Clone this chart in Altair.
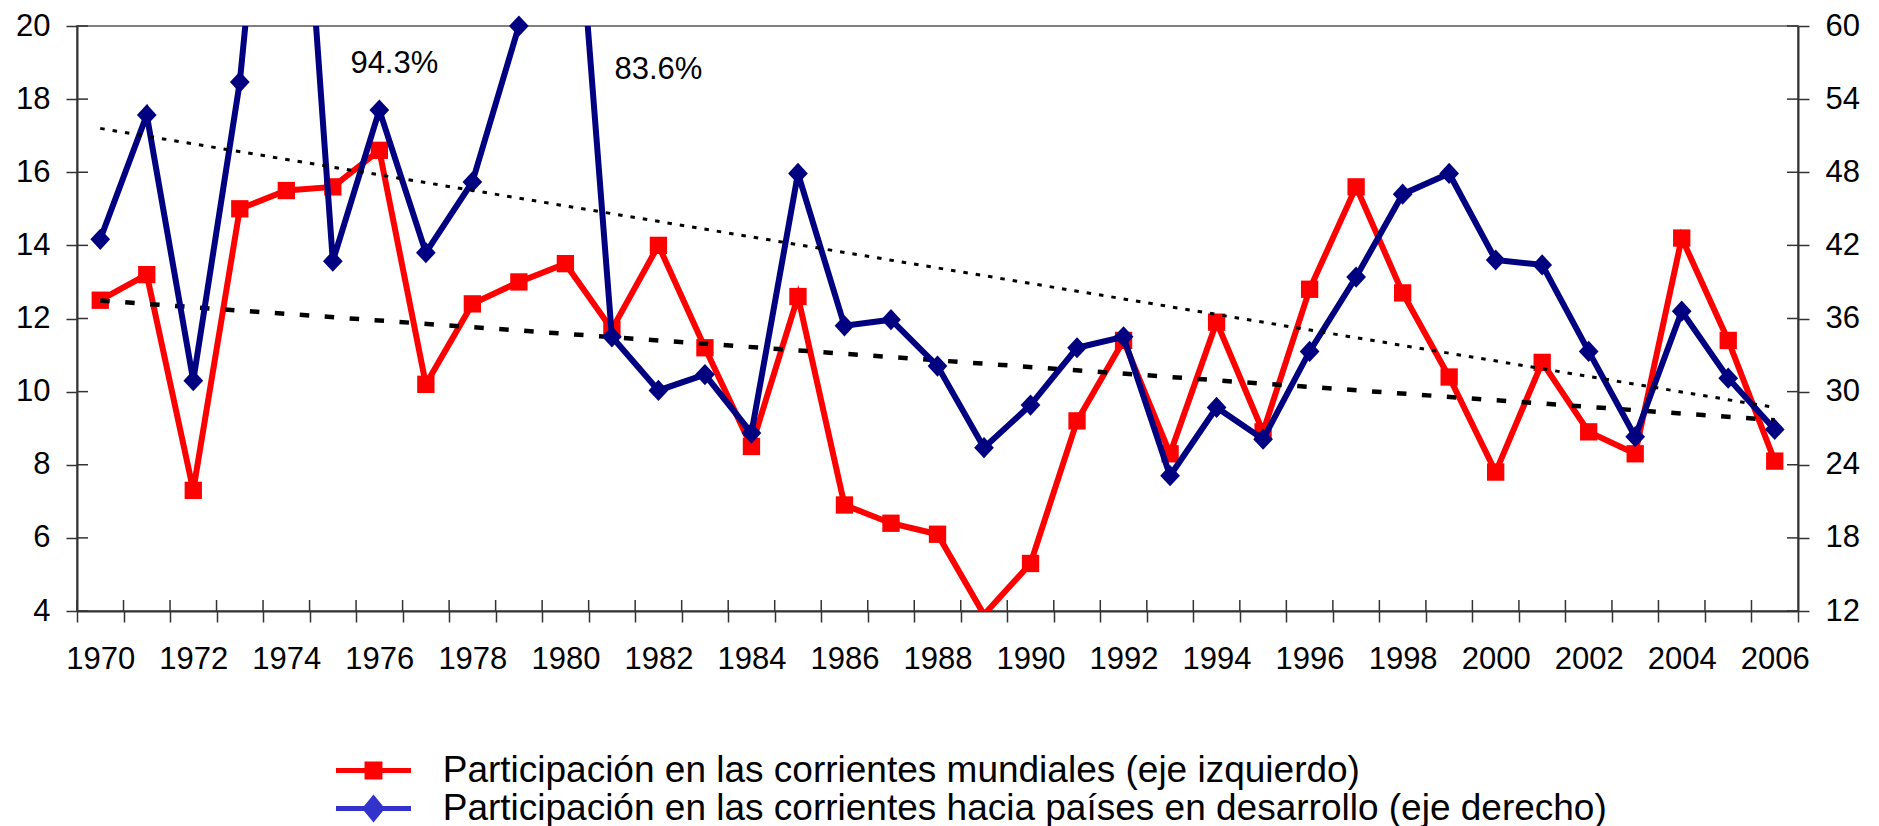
import altair as alt
import pandas as pd

# ---------------- data ----------------
years = list(range(1970, 2007))
mundial = [12.5, 13.2, 7.3, 15.0, 15.5, 15.6, 16.6, 10.2, 12.4, 13.0, 13.5, 11.7,
           14.0, 11.2, 8.5, 12.6, 6.9, 6.4, 6.1, 3.9, 5.3, 9.2, 11.4, 8.3, 11.9,
           8.9, 12.8, 15.6, 12.7, 10.4, 7.8, 10.8, 8.9, 8.3, 14.2, 11.4, 8.1]
desarrollo = [42.5, 52.7, 30.9, 55.4, 94.3, 40.7, 53.1, 41.4, 47.2, 60.0, 83.6, 34.5,
              30.1, 31.4, 26.6, 47.9, 35.4, 35.9, 32.1, 25.4, 28.9, 33.6, 34.5, 23.1,
              28.7, 26.1, 33.3, 39.4, 46.2, 47.9, 40.8, 40.4, 33.3, 26.3, 36.6, 31.1, 26.9]
trend_years = [1970, 2006]
trend_mundial = [12.49, 9.22]
trend_desarrollo = [51.6, 28.7]
note_years = [1976, 1982]
note_values = [18.95, 18.8]
note_labels = ["94.3%", "83.6%"]
left_ticks = [4, 6, 8, 10, 12, 14, 16, 18, 20]
right_ticks = [12, 18, 24, 30, 36, 42, 48, 54, 60]
series = ["Participación en las corrientes mundiales (eje izquierdo)",
          "Participación en las corrientes hacia países en desarrollo (eje derecho)"]

FONT = "Liberation Sans"
RED = "#FF0000"
NAVY = "#000080"
LEG_BLUE = "#3333CC"
AXIS = "#333333"

W, H = 1721, 585
TICK = 11

df = pd.DataFrame({"year": years, "mundial": mundial, "desarrollo": desarrollo})
trend = pd.DataFrame({"year": trend_years, "mundial": trend_mundial,
                      "desarrollo": trend_desarrollo})
legend_df = pd.DataFrame({"year": [1970, 1970], "serie": series,
                          "mundial": [None, None]})
lt_df = pd.DataFrame({"mundial": left_ticks})
rt_df = pd.DataFrame({"desarrollo": right_ticks})
yt_df = pd.DataFrame({"year": years})

x_axis = alt.Axis(title=None, labelAngle=0, tickBand="extent",
                  labelExpr="datum.value % 2 === 0 ? datum.label : ''",
                  labelPadding=22)
x_scale = alt.Scale(type="band", domain=years, paddingInner=0, paddingOuter=0)
x = alt.X("year:O", scale=x_scale, axis=x_axis)

yl_scale = alt.Scale(domain=[4, 20], nice=False, zero=False)
yr_scale = alt.Scale(domain=[12, 60], nice=False, zero=False)
yl_axis = alt.Axis(title=None, values=left_ticks, orient="left", labelPadding=16)
yr_axis = alt.Axis(title=None, values=right_ticks, orient="right", labelPadding=16)

yl = alt.Y("mundial:Q", scale=yl_scale, axis=yl_axis)
yr = alt.Y("desarrollo:Q", scale=yr_scale, axis=yr_axis)

# ---- left-axis group ----
red_line = alt.Chart(df).mark_line(color=RED, strokeWidth=6, clip=True).encode(x=x, y=yl)
red_pts = alt.Chart(df).transform_filter("datum.mundial >= 4").mark_point(
    shape="square", size=300, filled=True, color=RED, opacity=1).encode(x=x, y=yl)
red_trend = alt.Chart(trend).mark_line(color="black", strokeWidth=4.5,
                                       strokeDash=[9.5, 15.5]).encode(x=x, y=yl)

notes = []
for yr_, v_, lab_, dx_ in zip(note_years, note_values, note_labels, [15, 0]):
    nd = pd.DataFrame({"year": [yr_], "mundial": [v_], "label": [lab_]})
    notes.append(alt.Chart(nd).mark_text(font=FONT, fontSize=31, color="black",
                                         align="center", baseline="middle", dx=dx_)
                 .encode(x=x, y=yl, text="label:N"))

# inner halves of the crossing ticks (left axis and category axis)
left_inner = alt.Chart(lt_df).mark_rule(color=AXIS, strokeWidth=1.5).encode(
    y=yl, x=alt.value(0), x2=alt.value(TICK))
x_inner = alt.Chart(yt_df).mark_rule(color=AXIS, strokeWidth=1.5).encode(
    x=alt.X("year:O", scale=x_scale, bandPosition=0, axis=x_axis),
    y=alt.value(H - TICK), y2=alt.value(H))

path_red = "M-2.68,-0.18L2.68,-0.18L2.68,0.18L-2.68,0.18Z M-0.64,-0.64L0.64,-0.64L0.64,0.64L-0.64,0.64Z"
path_blue = "M-2.68,-0.18L2.68,-0.18L2.68,0.18L-2.68,0.18Z M0,-1L0.82,0L0,1L-0.82,0Z"

leg = alt.Legend(title=None, orient="none", legendX=278, legendY=726, padding=0,
                 labelFont=FONT, labelFontSize=37, labelColor="black", labelLimit=3000,
                 symbolSize=784, symbolStrokeWidth=0, labelOffset=50.7, rowPadding=0,
                 symbolOpacity=1)
legend_layer = alt.Chart(legend_df).mark_point(filled=True, opacity=1).encode(
    x=x, y=yl,
    color=alt.Color("serie:N", scale=alt.Scale(domain=series, range=[RED, LEG_BLUE]), legend=leg),
    shape=alt.Shape("serie:N", scale=alt.Scale(domain=series, range=[path_red, path_blue]), legend=leg),
)

left = alt.layer(left_inner, x_inner, red_line, red_pts, red_trend, *notes, legend_layer)

# ---- right-axis group ----
diamond = "M0,-1L0.93,0L0,1L-0.93,0Z"
right_inner = alt.Chart(rt_df).mark_rule(color=AXIS, strokeWidth=1.5).encode(
    y=yr, x=alt.value(W - TICK), x2=alt.value(W))
blue_line = alt.Chart(df).mark_line(color=NAVY, strokeWidth=6, clip=True).encode(x=x, y=yr)
blue_pts = alt.Chart(df).transform_filter("datum.desarrollo <= 60").mark_point(
    shape=diamond, size=450, filled=True, color=NAVY, opacity=1).encode(x=x, y=yr)
blue_trend = alt.Chart(trend).mark_line(color="black", strokeWidth=3,
                                        strokeDash=[4.5, 8]).encode(x=x, y=yr)
right = alt.layer(right_inner, blue_line, blue_pts, blue_trend)

chart = (
    alt.layer(left, right)
    .resolve_scale(y="independent")
    .properties(width=W, height=H,
                autosize=alt.AutoSizeParams(type="none"),
                padding={"left": 69, "top": 18, "right": 73, "bottom": 215},
                background="white")
    .configure_view(stroke="#808080", strokeWidth=2)
    .configure_axis(labelFont=FONT, labelFontSize=31, labelColor="black",
                    domainColor=AXIS, domainWidth=2, tickColor=AXIS,
                    tickWidth=1.5, tickSize=TICK, grid=False)
)

chart.save("out.html", embed_options={"renderer": "svg", "actions": False})
